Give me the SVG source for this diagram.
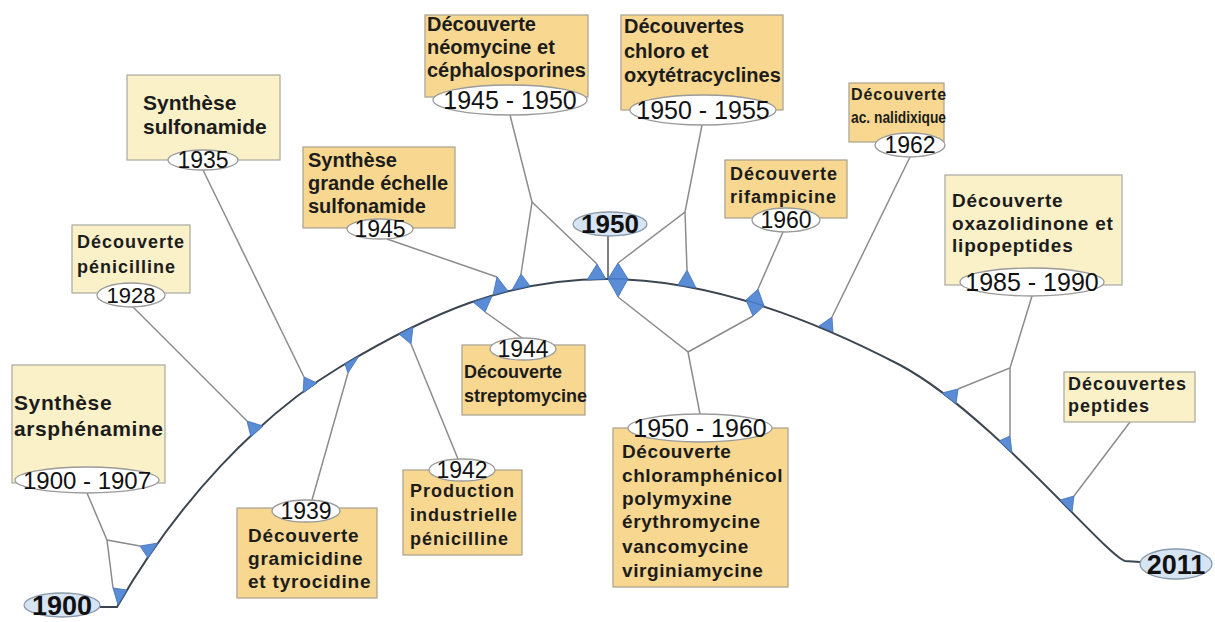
<svg xmlns="http://www.w3.org/2000/svg" width="1215" height="622" viewBox="0 0 1215 622">
<style>
.bc{fill:#fbf1c9;stroke:#a8a8a0;stroke-width:1.2}
.bo{fill:#f8d890;stroke:#a8a090;stroke-width:1.2}
.el{fill:#ffffff;stroke:#9a9a9a;stroke-width:1.3}
.eb{fill:#d6e4f3;stroke:#8a9aaa;stroke-width:1.3}
.t{font-family:"Liberation Sans",Arial,sans-serif;font-weight:bold;fill:#1c1c1c}
.d{font-family:"Liberation Sans",Arial,sans-serif;fill:#111;text-anchor:middle}
.y{font-family:"Liberation Sans",Arial,sans-serif;font-weight:bold;fill:#111;text-anchor:middle;font-size:27px}
.cn{fill:none;stroke:#8c8c8c;stroke-width:1.5}
.tl{fill:none;stroke:#3c4650;stroke-width:2}
.ah{fill:#5b8dd6;stroke:#3d6db5;stroke-width:0.8}
</style>
<rect width="1215" height="622" fill="#ffffff"/>

<g id="connectors">
<path class="tl" d="M100,607 L117,607 C177,502 260,415 340,367 C430,313 507,279 607,279 C707,279 810,318 900,365 C990,413 1105,555 1125,561 L1140,562"/>
<polyline class="cn" points="87,493 107,540 140,546"/>
<polyline class="cn" points="107,540 113,588"/>
<line class="cn" x1="133" y1="307" x2="247" y2="421"/>
<line class="cn" x1="203" y1="170" x2="304" y2="377"/>
<line class="cn" x1="312" y1="500" x2="348" y2="373"/>
<line class="cn" x1="458" y1="459" x2="411" y2="344"/>
<line class="cn" x1="522" y1="338" x2="485" y2="312"/>
<line class="cn" x1="387" y1="239" x2="497" y2="277"/>
<polyline class="cn" points="510,115 532,202 521,274"/>
<line class="cn" x1="532" y1="202" x2="597" y2="264"/>
<line class="cn" x1="608" y1="236" x2="608" y2="279" style="stroke:#555"/>
<polyline class="cn" points="702,125 685,212 618,263"/>
<line class="cn" x1="685" y1="212" x2="687" y2="270"/>
<polyline class="cn" points="700,414 688,352 618,297"/>
<line class="cn" x1="688" y1="352" x2="753" y2="316"/>
<line class="cn" x1="783" y1="232" x2="758" y2="289"/>
<line class="cn" x1="910" y1="157" x2="832" y2="317"/>
<polyline class="cn" points="1032,296 1010,368 958,389"/>
<line class="cn" x1="1010" y1="368" x2="1010" y2="436"/>
<line class="cn" x1="1130" y1="422" x2="1074" y2="496"/>

<polygon class="ah" points="113,588 127,590 118,605"/>
<polygon class="ah" points="140,546 158,543 148,558"/>
<polygon class="ah" points="247,421 251,437 263,426"/>
<polygon class="ah" points="304,377 303,393 317,383"/>
<polygon class="ah" points="348,373 345,364 359,356"/>
<polygon class="ah" points="411,344 399,334 413,327"/>
<polygon class="ah" points="485,312 473,302 492,296"/>
<polygon class="ah" points="497,277 493,295 508,291"/>
<polygon class="ah" points="521,274 512,290 530,286"/>
<polygon class="ah" points="597,264 587,280 606,279"/>
<polygon class="ah" points="618,263 608,279 628,279"/>
<polygon class="ah" points="618,297 608,279 628,279"/>
<polygon class="ah" points="687,270 678,285 696,288"/>
<polygon class="ah" points="758,289 746,300 764,306"/>
<polygon class="ah" points="753,316 746,300 764,306"/>
<polygon class="ah" points="832,317 819,326 833,332"/>
<polygon class="ah" points="958,389 942,393 956,404"/>
<polygon class="ah" points="1010,436 999,441 1012,453"/>
<polygon class="ah" points="1074,496 1060,500 1072,512"/>
</g>

<g id="n1900">
<ellipse class="eb" cx="62" cy="605" rx="38" ry="12"/>
<text class="y" x="62" y="615">1900</text>
</g>

<g id="n2011">
<ellipse class="eb" cx="1176" cy="564" rx="36" ry="15"/>
<text class="y" x="1176" y="574">2011</text>
</g>

<g id="n1950">
<ellipse class="eb" cx="610" cy="224" rx="37" ry="12"/>
<text class="y" x="610" y="233" style="font-size:26px">1950</text>
</g>

<g id="n1900-1907">
<rect class="bc" x="12" y="365" width="153" height="118"/>
<text class="t" style="font-size:21px;letter-spacing:0.6px"><tspan x="14" y="410">Synthèse</tspan><tspan x="14" y="436">arsphénamine</tspan></text>
<ellipse class="el" cx="87" cy="480" rx="72" ry="13"/>
<text class="d" x="87" y="489" style="font-size:24px">1900 - 1907</text>
</g>

<g id="n1928">
<rect class="bc" x="72" y="225" width="118" height="68"/>
<text class="t" style="font-size:18px;letter-spacing:1px"><tspan x="77" y="248">Découverte</tspan><tspan x="77" y="273">pénicilline</tspan></text>
<ellipse class="el" cx="131" cy="295" rx="34" ry="12"/>
<text class="d" x="131" y="303" style="font-size:22px">1928</text>
</g>

<g id="n1935">
<rect class="bc" x="127" y="75" width="153" height="85"/>
<text class="t" style="font-size:21px"><tspan x="143" y="110">Synthèse</tspan><tspan x="143" y="134">sulfonamide</tspan></text>
<ellipse class="el" cx="203" cy="160" rx="35" ry="10"/>
<text class="d" x="203" y="168" style="font-size:23px">1935</text>
</g>

<g id="n1945">
<rect class="bo" x="303" y="147" width="152" height="81"/>
<text class="t" style="font-size:20px"><tspan x="308" y="167">Synthèse</tspan><tspan x="308" y="190">grande échelle</tspan><tspan x="308" y="213">sulfonamide</tspan></text>
<ellipse class="el" cx="380" cy="229" rx="33" ry="10"/>
<text class="d" x="380" y="237" style="font-size:23px">1945</text>
</g>

<g id="n1939">
<rect class="bo" x="237" y="508" width="140" height="90"/>
<text class="t" style="font-size:19px;letter-spacing:0.8px"><tspan x="248" y="542">Découverte</tspan><tspan x="248" y="565">gramicidine</tspan><tspan x="248" y="588">et tyrocidine</tspan></text>
<ellipse class="el" cx="306" cy="511" rx="34" ry="11"/>
<text class="d" x="306" y="519" style="font-size:23px">1939</text>
</g>

<g id="n1942">
<rect class="bo" x="403" y="470" width="119" height="85"/>
<text class="t" style="font-size:18px;letter-spacing:1px"><tspan x="410" y="497">Production</tspan><tspan x="410" y="521">industrielle</tspan><tspan x="410" y="545">pénicilline</tspan></text>
<ellipse class="el" cx="462" cy="470" rx="33" ry="11"/>
<text class="d" x="462" y="478" style="font-size:23px">1942</text>
</g>

<g id="n1944">
<rect class="bo" x="462" y="345" width="123" height="70"/>
<text class="t" style="font-size:18px"><tspan x="464" y="378">Découverte</tspan><tspan x="464" y="402">streptomycine</tspan></text>
<ellipse class="el" cx="523" cy="349" rx="33" ry="11"/>
<text class="d" x="523" y="357" style="font-size:23px">1944</text>
</g>

<g id="n1945-1950">
<rect class="bo" x="425" y="15" width="163" height="82"/>
<text class="t" style="font-size:20px"><tspan x="427" y="31">Découverte</tspan><tspan x="427" y="54">néomycine et</tspan><tspan x="427" y="77">céphalosporines</tspan></text>
<ellipse class="el" cx="510" cy="100" rx="77" ry="15"/>
<text class="d" x="510" y="109" style="font-size:25px">1945 - 1950</text>
</g>

<g id="n1950-1955">
<rect class="bo" x="621" y="15" width="162" height="95"/>
<text class="t" style="font-size:20px"><tspan x="624" y="33">Découvertes</tspan><tspan x="624" y="58">chloro et</tspan><tspan x="624" y="82">oxytétracyclines</tspan></text>
<ellipse class="el" cx="703" cy="110" rx="73" ry="15"/>
<text class="d" x="703" y="119" style="font-size:25px">1950 - 1955</text>
</g>

<g id="n1950-1960">
<rect class="bo" x="613" y="428" width="175" height="159"/>
<text class="t" style="font-size:19px;letter-spacing:0.6px"><tspan x="622" y="458">Découverte</tspan><tspan x="622" y="482">chloramphénicol</tspan><tspan x="622" y="505">polymyxine</tspan><tspan x="622" y="528">érythromycine</tspan><tspan x="622" y="553">vancomycine</tspan><tspan x="622" y="577">virginiamycine</tspan></text>
<ellipse class="el" cx="700" cy="428" rx="72" ry="14"/>
<text class="d" x="700" y="437" style="font-size:25px">1950 - 1960</text>
</g>

<g id="n1960">
<rect class="bo" x="725" y="160" width="122" height="58"/>
<text class="t" style="font-size:18px;letter-spacing:1px"><tspan x="730" y="180">Découverte</tspan><tspan x="730" y="203">rifampicine</tspan></text>
<ellipse class="el" cx="786" cy="220" rx="34" ry="12"/>
<text class="d" x="786" y="228" style="font-size:23px">1960</text>
</g>

<g id="n1962">
<rect class="bo" x="849" y="83" width="95" height="59"/>
<text class="t" style="font-size:16px"><tspan x="851" y="100" style="letter-spacing:0.9px">Découverte</tspan><tspan x="851" y="123" textLength="95" lengthAdjust="spacingAndGlyphs">ac. nalidixique</tspan></text>
<ellipse class="el" cx="910" cy="145" rx="35" ry="12"/>
<text class="d" x="910" y="153" style="font-size:23px">1962</text>
</g>

<g id="n1985-1990">
<rect class="bc" x="945" y="175" width="177" height="110"/>
<text class="t" style="font-size:19px;letter-spacing:0.8px"><tspan x="952" y="207">Découverte</tspan><tspan x="952" y="230">oxazolidinone et</tspan><tspan x="952" y="252">lipopeptides</tspan></text>
<ellipse class="el" cx="1032" cy="282" rx="72" ry="14"/>
<text class="d" x="1032" y="291" style="font-size:25px">1985 - 1990</text>
</g>

<g id="npeptides">
<rect class="bc" x="1064" y="372" width="131" height="50"/>
<text class="t" style="font-size:18px;letter-spacing:1px"><tspan x="1068" y="390">Découvertes</tspan><tspan x="1068" y="412">peptides</tspan></text>
</g>
</svg>
